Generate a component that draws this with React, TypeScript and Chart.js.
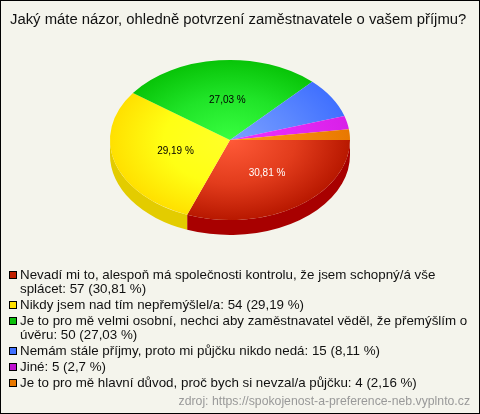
import React, { useEffect, useRef } from "react";
import { Chart, registerables } from "chart.js";

Chart.register(...registerables);

const titleText = "Jaký máte názor, ohledně potvrzení zaměstnavatele o vašem příjmu?";
const sourceText = "zdroj: https://spokojenost-a-preference-neb.vyplnto.cz";
const categories = [
  "Nevadí mi to, alespoň má společnosti kontrolu, že jsem schopný/á vše splácet",
  "Nikdy jsem nad tím nepřemýšlel/a",
  "Je to pro mě velmi osobní, nechci aby zaměstnavatel věděl, že přemýšlím o úvěru",
  "Nemám stále příjmy, proto mi půjčku nikdo nedá",
  "Jiné",
  "Je to pro mě hlavní důvod, proč bych si nevzal/a půjčku",
];
const values = [57, 54, 50, 15, 5, 4];
const percents = ["30,81", "29,19", "27,03", "8,11", "2,7", "2,16"];
const legendLines = [
  ["Nevadí mi to, alespoň má společnosti kontrolu, že jsem schopný/á vše", "splácet: 57 (30,81 %)"],
  ["Nikdy jsem nad tím nepřemýšlel/a: 54 (29,19 %)"],
  ["Je to pro mě velmi osobní, nechci aby zaměstnavatel věděl, že přemýšlím o", "úvěru: 50 (27,03 %)"],
  ["Nemám stále příjmy, proto mi půjčku nikdo nedá: 15 (8,11 %)"],
  ["Jiné: 5 (2,7 %)"],
  ["Je to pro mě hlavní důvod, proč bych si nevzal/a půjčku: 4 (2,16 %)"],
];
const legendColors = ["#c02000", "#ffe000", "#0cc00c", "#4070ff", "#c010d0", "#e87800"];
const innerColors = ["#ff5a38", "#ffff28", "#38ff40", "#7ca0ff", "#f030ff", "#ff9c14"];
const middleColors = ["#e23c1c", "#ffff14", "#20e428", "#5c88ff", "#e428f4", "#f48a0a"];
const outerColors = ["#b81800", "#ffe000", "#08c408", "#4070ff", "#d820e8", "#e87800"];
const sideColors = ["#a80000", "#e3cc00", "#08a008", "#3058c0", "#a010b0", "#c06000"];
const labelColors = ["#ffffff", "#000000", "#000000"];

const SQUASH = 2 / 3;
const DEPTH = 15;
const FONT = '"Liberation Sans", Arial, sans-serif';

const pie3d = {
  id: "pie3d",
  beforeDraw(chart: any) {
    const { ctx, width, height } = chart;
    ctx.save();
    ctx.fillStyle = "#f4f4ec";
    ctx.fillRect(0, 0, width, height);
    ctx.strokeStyle = "#000000";
    ctx.lineWidth = 1;
    ctx.strokeRect(0.5, 0.5, width - 1, height - 1);
    ctx.restore();
  },
  beforeDatasetsDraw(chart: any) {
    const { ctx } = chart;
    const arcs = chart.getDatasetMeta(0).data;
    ctx.save();
    arcs.forEach((arc: any, i: number) => {
      const start = Math.max(arc.startAngle, 0);
      const end = Math.min(arc.endAngle, Math.PI);
      if (end <= start) return;
      const rx = arc.outerRadius;
      const ry = rx * SQUASH;
      ctx.fillStyle = sideColors[i];
      ctx.beginPath();
      ctx.ellipse(arc.x, arc.y, rx, ry, 0, start, end, false);
      ctx.ellipse(arc.x, arc.y + DEPTH, rx, ry, 0, end, start, true);
      ctx.closePath();
      ctx.fill();
    });
    ctx.restore();
    const a = arcs[0];
    ctx.save();
    ctx.translate(a.x, a.y);
    ctx.scale(1, SQUASH);
    ctx.translate(-a.x, -a.y);
  },
  afterDatasetsDraw(chart: any) {
    const { ctx } = chart;
    ctx.restore();
    const arcs = chart.getDatasetMeta(0).data;
    ctx.save();
    ctx.font = `10px ${FONT}`;
    ctx.textAlign = "center";
    ctx.textBaseline = "middle";
    arcs.forEach((arc: any, i: number) => {
      if (i >= labelColors.length) return;
      const p = arc.tooltipPosition();
      ctx.fillStyle = labelColors[i];
      ctx.fillText(`${percents[i]} %`, p.x + 3, arc.y + (p.y - arc.y) * SQUASH);
    });
    ctx.restore();
  },
  afterDraw(chart: any) {
    const { ctx } = chart;
    ctx.save();
    ctx.textBaseline = "middle";
    ctx.textAlign = "left";
    ctx.fillStyle = "#111111";
    ctx.font = `14.85px ${FONT}`;
    ctx.fillText(titleText, 10, 20);
    ctx.font = `13.35px ${FONT}`;
    const rows = [275, 305, 321, 351, 367, 383];
    legendLines.forEach((lines, i) => {
      ctx.fillStyle = legendColors[i];
      ctx.fillRect(9.5, rows[i] - 3.5, 7, 7);
      ctx.strokeStyle = "#000000";
      ctx.lineWidth = 1;
      ctx.strokeRect(9.5, rows[i] - 3.5, 7, 7);
      ctx.fillStyle = "#111111";
      lines.forEach((line, j) => ctx.fillText(line, 20, rows[i] + j * 14.5));
    });
    ctx.fillStyle = "#999999";
    ctx.font = `12.25px ${FONT}`;
    ctx.textAlign = "right";
    ctx.fillText(sourceText, 470, 402);
    ctx.restore();
  },
};

export default function App() {
  const ref = useRef<HTMLCanvasElement>(null);
  useEffect(() => {
    document.body.style.margin = "0";
    const chart = new Chart(ref.current!, {
      type: "pie",
      data: {
        labels: categories,
        datasets: [
          {
            data: values,
            borderWidth: 0,
            backgroundColor: (c: any) => {
              const area = c.chart.chartArea;
              if (!area) return outerColors[c.dataIndex];
              const cx = (area.left + area.right) / 2;
              const cy = (area.top + area.bottom) / 2;
              const r = (area.right - area.left) / 2;
              const g = c.chart.ctx.createRadialGradient(cx, cy, 0, cx, cy, r);
              g.addColorStop(0, innerColors[c.dataIndex]);
              g.addColorStop(0.55, middleColors[c.dataIndex]);
              g.addColorStop(1, outerColors[c.dataIndex]);
              return g;
            },
          },
        ],
      },
      options: {
        responsive: false,
        animation: false,
        rotation: 90,
        layout: { padding: { left: 110, right: 130, top: 20, bottom: 154 } },
        plugins: { legend: { display: false }, title: { display: false }, tooltip: { enabled: false } },
      },
      plugins: [pie3d],
    } as any);
    return () => chart.destroy();
  }, []);
  return <canvas ref={ref} width={480} height={414} style={{ display: "block" }} />;
}
